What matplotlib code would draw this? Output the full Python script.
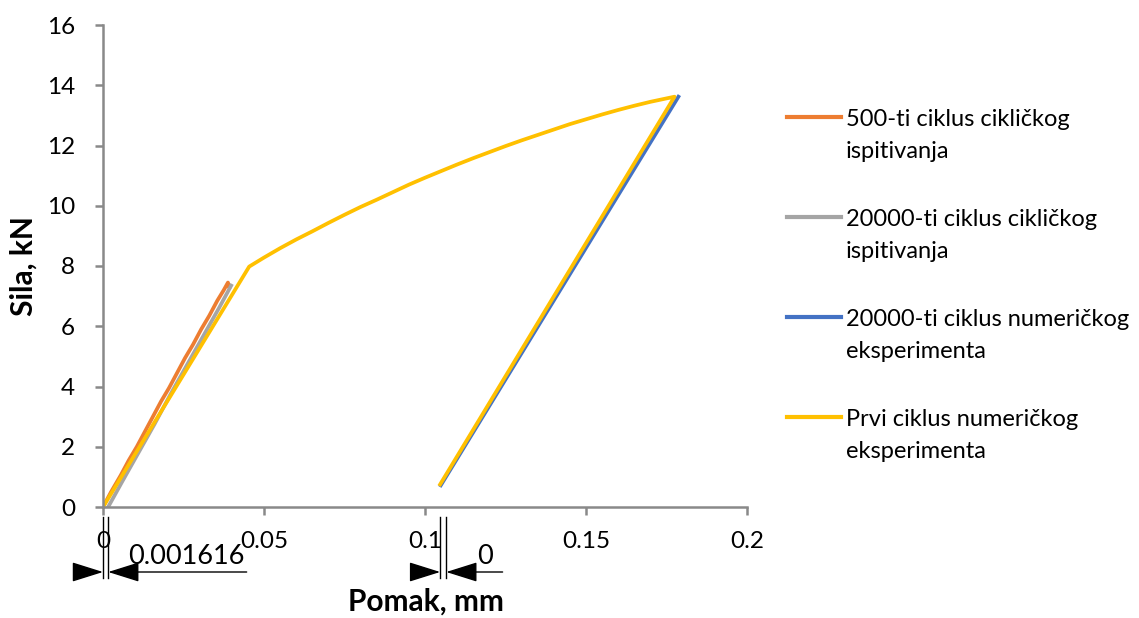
import matplotlib
matplotlib.use("Agg")
import matplotlib.pyplot as plt
from matplotlib.lines import Line2D

plt.rcParams['font.family'] = ['Lato', 'DejaVu Sans']

# ---- data ----
exp500_x = [0.0, 0.0025, 0.0055, 0.008, 0.0105, 0.013, 0.0155, 0.018, 0.0205, 0.023,
            0.0255, 0.028, 0.0305, 0.033, 0.0355, 0.0375, 0.0388, 0.0392]
exp500_y = [0.0, 0.5, 1.05, 1.55, 2.0, 2.5, 3.0, 3.5, 3.95, 4.45,
            4.95, 5.4, 5.9, 6.35, 6.85, 7.2, 7.45, 7.3]

exp20000_x = [0.0016, 0.006, 0.011, 0.016, 0.021, 0.026, 0.031, 0.036, 0.0398]
exp20000_y = [0.0, 0.85, 1.8, 2.75, 3.75, 4.7, 5.65, 6.6, 7.35]

num20000_x = [0.1049, 0.1787]
num20000_y = [0.72, 13.62]

num1_x = [0.0, 0.0454, 0.05, 0.055, 0.06, 0.065, 0.07, 0.075, 0.08, 0.085, 0.09,
          0.095, 0.10, 0.105, 0.11, 0.115, 0.12, 0.125, 0.13, 0.135, 0.14,
          0.145, 0.15, 0.155, 0.16, 0.165, 0.17, 0.1775, 0.1047]
num1_y = [0.0, 7.98, 8.28, 8.59, 8.88, 9.15, 9.43, 9.70, 9.96, 10.20, 10.45,
          10.70, 10.93, 11.15, 11.37, 11.58, 11.78, 11.98, 12.17, 12.35, 12.53,
          12.71, 12.87, 13.03, 13.18, 13.32, 13.45, 13.62, 0.75]

series_labels = ["500-ti ciklus cikličkog\nispitivanja",
                 "20000-ti ciklus cikličkog\nispitivanja",
                 "20000-ti ciklus numeričkog\neksperimenta",
                 "Prvi ciklus numeričkog\neksperimenta"]
series_colors = ["#ED7D31", "#A5A5A5", "#4472C4", "#FFC000"]

x_ticks = [0, 0.05, 0.1, 0.15, 0.2]
x_ticklabels = ["0", "0.05", "0.1", "0.15", "0.2"]
y_ticks = [0, 2, 4, 6, 8, 10, 12, 14, 16]

dim1 = (0.0, 0.001616, "0.001616")
dim2 = (0.1047, 0.1066, "0")

# ---- figure ----
W, H = 1139, 618
fig = plt.figure(figsize=(W/100, H/100), dpi=100)
ax = fig.add_axes([103/W, 1-507/H, (747-103)/W, (507-25)/H])

lw = 2.7
ax.plot(exp500_x, exp500_y, color=series_colors[0], lw=lw, solid_joinstyle='round')
ax.plot(exp20000_x, exp20000_y, color=series_colors[1], lw=lw)
ax.plot(num20000_x, num20000_y, color=series_colors[2], lw=lw)
ax.plot(num1_x, num1_y, color=series_colors[3], lw=lw, solid_joinstyle='round')

ax.set_xlim(0, 0.2)
ax.set_ylim(0, 16)
ax.set_xticks(x_ticks)
ax.set_xticklabels(x_ticklabels)
ax.set_yticks(y_ticks)
for s in ['top', 'right']:
    ax.spines[s].set_visible(False)
for s in ['left', 'bottom']:
    ax.spines[s].set_color('#898989')
    ax.spines[s].set_linewidth(1.8)
ax.tick_params(axis='both', colors='#898989', labelcolor='black', labelsize=17.5,
               length=6, width=1.8, direction='out')
ax.tick_params(axis='x', pad=11)
ax.tick_params(axis='y', pad=14)

ax.set_xlabel("Pomak, mm", fontsize=21.5, fontweight='bold')
ax.set_ylabel("Sila, kN", fontsize=21.5, fontweight='bold')
ax.xaxis.set_label_coords((426-103)/644, (507-588)/482)
ax.yaxis.set_label_coords((38-103)/644, 0.5)

# ---- dimension annotations ----
tr = ax.get_xaxis_transform()
ya = (507-572)/482
astyle = '-|>,head_length=0.7,head_width=0.22'
for (xa, xb, txt) in [dim1, dim2]:
    for xv in (xa, xb):
        ax.plot([xv, xv], [(507-517)/482, (507-578)/482], color='black', lw=1.0,
                transform=tr, clip_on=False)
    ax.annotate("", xy=(xa, ya), xytext=(xa - 0.0078, ya), xycoords=tr, textcoords=tr,
                arrowprops=dict(arrowstyle=astyle, color='black', lw=1.0,
                                mutation_scale=28, shrinkA=0, shrinkB=0),
                annotation_clip=False)
    right_end = xb + (0.0430 if txt != "0" else 0.0175)
    ax.annotate("", xy=(xb, ya), xytext=(right_end, ya), xycoords=tr, textcoords=tr,
                arrowprops=dict(arrowstyle=astyle, color='black', lw=1.0,
                                mutation_scale=28, shrinkA=0, shrinkB=0),
                annotation_clip=False)
    tx = xb + (0.0062 if txt != "0" else 0.0095)
    ax.text(tx, ya + 0.006, txt, transform=tr, fontsize=19.5, ha='left', va='bottom')

# ---- legend (manual, handle aligned with first text line) ----
leg_y = [117, 217, 317, 417]
for yy, lab, col in zip(leg_y, series_labels, series_colors):
    fy = 1 - yy / H
    fig.add_artist(Line2D([787/W, 841/W], [fy, fy], color=col, lw=3.0,
                          transform=fig.transFigure))
    t1, t2 = lab.split("\n")
    fig.text(846/W, fy, t1, fontsize=17, ha='left', va='center_baseline')
    fig.text(846/W, 1 - (yy + 32) / H, t2, fontsize=17, ha='left', va='center_baseline')

fig.savefig("out.png", dpi=100)
